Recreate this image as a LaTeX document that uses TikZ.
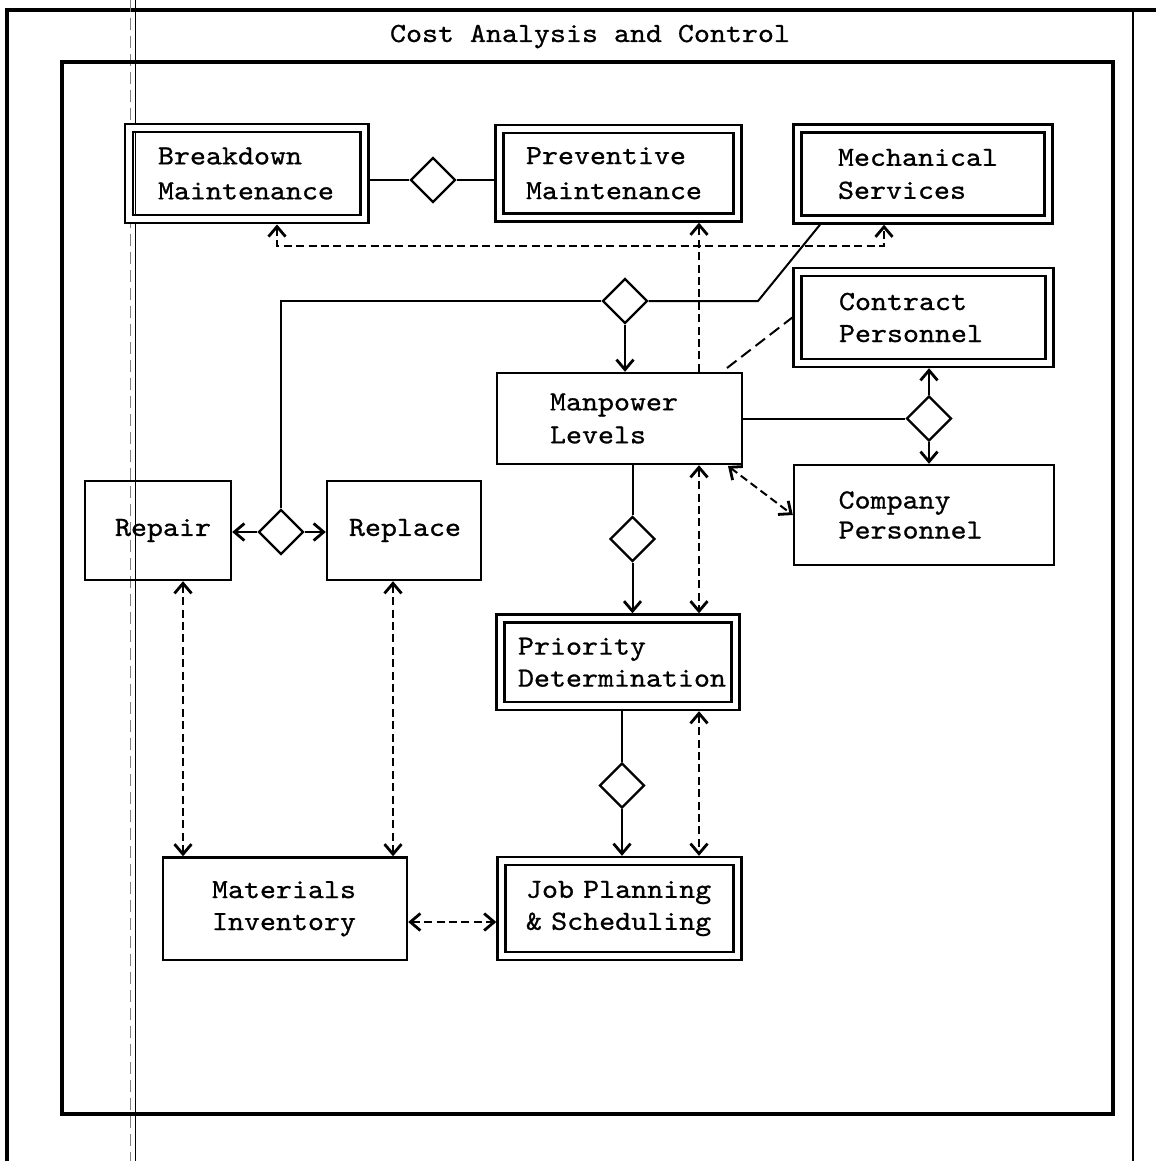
\documentclass[tikz,border=0pt]{standalone}
\usepackage{fontspec}
\newfontfamily\tw{lmmono10-regular.otf}[FakeStretch=1.1,FakeBold=0.8]
\usetikzlibrary{arrows.meta,shapes.geometric}
\begin{document}
\hyphenpenalty=10000
\begin{tikzpicture}[x=0.5pt,y=-0.5pt,
  every node/.style={font=\fontsize{13.85}{16}\tw},
  sbox/.style={draw, rectangle, line width=1.2pt, inner ysep=0pt, align=left},
  dbox/.style={draw, rectangle, double, double distance=2.8pt, line width=1.2pt,
               outer sep=2.6pt, inner ysep=0pt, align=left},
  gate/.style={draw, diamond, aspect=1, minimum width=22.5pt, minimum height=22.5pt,
               inner sep=0pt, line width=1.2pt},
  flow/.style={line width=1pt},
  link/.style={line width=1pt, dash pattern=on 4pt off 2.2pt},
  >={Straight Barb[length=5pt,width=8.5pt,line width=1.4pt]}]

\useasboundingbox (0,0) rectangle (1156,1161);

% page rules and panel frame
\draw[line width=1.6pt] (7,1161) -- (7,10) -- (1156,10);
\draw[line width=0.6pt] (1133,10) -- (1133,1161);
\draw[line width=0.5pt] (135,0) -- (135,1161);
\draw[line width=0.4pt, gray, dash pattern=on 6pt off 3pt] (130,0) -- (130,1161);
\draw[line width=1.7pt] (62,62) rectangle (1113,1114);

\node[anchor=base] (title) at (590,42) {Cost Analysis and Control};

% boxes
\node[dbox, minimum width=117.75pt, minimum height=45.75pt, text width=88.75pt, inner xsep=14.5pt,
      font=\fontsize{13.85}{17.5}\tw] (bm) at (246.75,173.5) {Breakdown\\Maintenance};
\node[dbox, minimum width=119pt, minimum height=44.25pt, text width=92.5pt, inner xsep=13.25pt,
      font=\fontsize{13.85}{17.5}\tw] (pm) at (618.5,173.25) {Preventive\\Maintenance};
\node[dbox, minimum width=125.5pt, minimum height=45.5pt, text width=85pt, inner xsep=20.25pt,
      font=\fontsize{13.85}{16.5}\tw] (ms) at (923,174) {Mechanical\\Services};
\node[dbox, minimum width=126pt, minimum height=45.5pt, text width=84.5pt, inner xsep=20.75pt,
      font=\fontsize{13.85}{16}\tw] (cp) at (923.5,317.5) {Contract\\Personnel};
\node[sbox, minimum width=122.5pt, minimum height=45.5pt, text width=69.5pt, inner xsep=26.5pt,
      font=\fontsize{13.85}{16.5}\tw] (ml) at (619.5,418.5) {Manpower\\Levels};
\node[sbox, minimum width=130pt, minimum height=50pt, text width=85.4pt, inner xsep=22.3pt,
      font=\fontsize{13.85}{15}\tw] (cop) at (924,515) {Company\\Personnel};
\node[sbox, minimum width=73pt, minimum height=49.5pt, text width=43pt, inner xsep=15pt]
      (rp) at (158,530.5) {Repair};
\node[sbox, minimum width=77pt, minimum height=49.5pt, text width=55pt, inner xsep=11pt]
      (rl) at (404,530.5) {Replace};
\node[dbox, minimum width=117.5pt, minimum height=43.75pt, text width=100pt, inner xsep=8.75pt,
      font=\fontsize{13.85}{16}\tw] (pd) at (618,662.25) {Priority\\Determination};
\node[sbox, minimum width=122pt, minimum height=51.25pt, text width=73pt, inner xsep=24.5pt,
      font=\fontsize{13.85}{16}\tw] (mi) at (285,908.75) {Materials\\Inventory};
\node[dbox, minimum width=118pt, minimum height=47.5pt, text width=93.5pt, inner xsep=12.25pt,
      font=\fontsize{13.85}{16}\tw] (jp) at (619.5,908.5) {\mbox{Job Planning}\\\mbox{\& Scheduling}};

% decision diamonds
\node[gate] (d1) at (433,180) {};
\node[gate] (d2) at (625,301) {};
\node[gate] (d3) at (929,418.5) {};
\node[gate] (d4) at (281,532) {};
\node[gate] (d5) at (632.5,539) {};
\node[gate] (d6) at (622,785.5) {};

% helper points for routed connectors
\coordinate (bx) at (277,246);
\coordinate (mx) at (884,246);
\coordinate (vx) at (699,0);
\coordinate (kn) at (758,301);
\coordinate (kx) at (820,0);
\coordinate (q1) at (727,368);
\coordinate (q2) at (728,466);
\coordinate (rx) at (183,0);
\coordinate (lx) at (393,0);
\coordinate (hy) at (0,922);

% top row
\draw[flow] (d1.west -| bm.east) -- (d1.west);
\draw[flow] (d1.east) -- (d1.east -| pm.west);
\draw[link,<->] (bx |- bm.south) -- (bx) -- (mx) -- (mx |- ms.south);
\draw[link,->] (vx |- ml.north) -- (vx |- pm.south);

% repair / replace branch up to manpower
\draw[flow] (d4.north) -- (d4.north |- d2.west) -- (d2.west);
\draw[flow] (d2.east) -- (kn) -- (kx |- ms.south);
\draw[flow,->] (d2.south) -- (d2.south |- ml.north);
\draw[link, dash pattern=on 6pt off 3pt] (q1) -- (cp.west);

% personnel
\draw[flow] (ml.east) -- (d3.west);
\draw[flow,->] (d3.north) -- (d3.north |- cp.south);
\draw[flow,->] (d3.south) -- (d3.south |- cop.north);
\draw[link,<->] (q2) -- (cop.west);

% manpower to priority to job planning
\draw[flow] (d5.north |- ml.south) -- (d5.north);
\draw[flow,->] (d5.south) -- (d5.south |- pd.north);
\draw[link,<->] (vx |- ml.south) -- (vx |- pd.north);
\draw[flow] (d6.north |- pd.south) -- (d6.north);
\draw[flow,->] (d6.south) -- (d6.south |- jp.north);
\draw[link,<->] (vx |- pd.south) -- (vx |- jp.north);

% repair and replace
\draw[flow,->] (d4.west) -- (d4.west -| rp.east);
\draw[flow,->] (d4.east) -- (d4.east -| rl.west);
\draw[link,<->] (rx |- rp.south) -- (rx |- mi.north);
\draw[link,<->] (lx |- rl.south) -- (lx |- mi.north);
\draw[link,<->] (mi.east |- hy) -- (jp.west |- hy);
\end{tikzpicture}
\end{document}
